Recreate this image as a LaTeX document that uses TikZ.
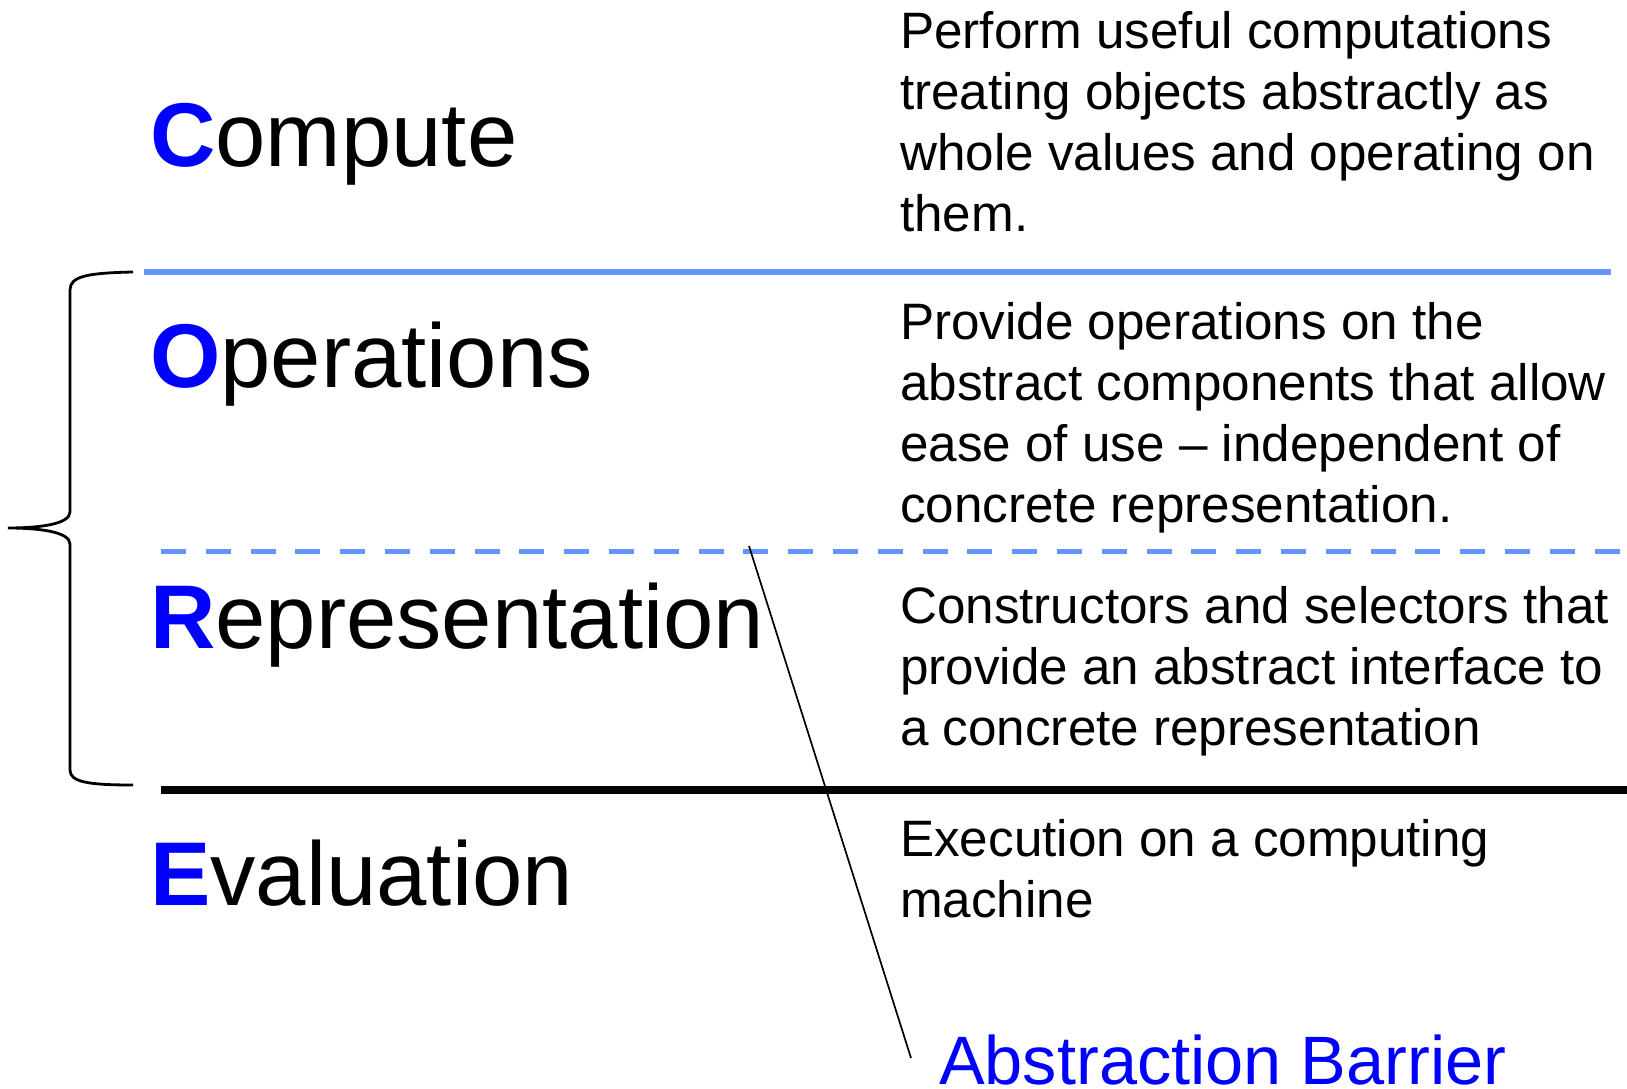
\documentclass[tikz,border=0pt]{standalone}
\usepackage{fontspec}
\setmainfont{Liberation Sans}
\definecolor{lineblue}{RGB}{100,150,250}
\definecolor{letterblue}{RGB}{0,0,255}
\begin{document}
\begin{tikzpicture}[x=1pt,y=-1pt,
  word/.style={anchor=base west,inner sep=0pt,font=\fontsize{90.5}{100}\selectfont},
  desc/.style={anchor=base west,inner sep=0pt,align=left,font=\fontsize{51.2}{61}\selectfont}]
\useasboundingbox (0,0) rectangle (1627,1089);
% words
\node[word] (compute) at (150,166) {\textcolor{letterblue}{\bfseries C}ompute};
\node[word] (operations) at (150,387) {\textcolor{letterblue}{\bfseries O}perations};
\node[word] (representation) at (150,648) {\textcolor{letterblue}{\bfseries R}epresentation};
\node[word] (evaluation) at (150,905) {\textcolor{letterblue}{\bfseries E}valuation};
% descriptions (anchored at the baseline of their last line)
\node[desc] (dcompute) at (900,231.5) {Perform useful computations\\treating objects abstractly as\\whole values and operating on\\them.};
\node[desc] (doperations) at (900,522) {Provide operations on the\\abstract components that allow\\ease of use -- independent of\\concrete representation.};
\node[desc] (drepresentation) at (900,745) {Constructors and selectors that\\provide an abstract interface to\\a concrete representation};
\node[desc] (devaluation) at (900,917) {Execution on a computing\\machine};
% lines
\coordinate (l1a) at (144,272); \coordinate (l1b) at (1611,272);
\coordinate (l2a) at (161,551); \coordinate (l2b) at (1622,551);
\coordinate (l3a) at (161,790); \coordinate (l3b) at (1627,790);
\draw[lineblue,line width=6pt] (l1a) -- (l1b);
\draw[lineblue,line width=5pt,dash pattern=on 25pt off 19.8pt] (l2a) -- (l2b);
\draw[black,line width=8pt] (l3a) -- (l3b);
% brace
\draw[line width=2.8pt] (133,272) .. controls (88,273) and (70,276) .. (70,290) -- (70,512)
  .. controls (70,524) and (40,528) .. (8,528)
  .. controls (40,528) and (70,532) .. (70,544) -- (70,770)
  .. controls (70,782) and (88,785) .. (133,785);
% barrier
\node[anchor=base west,inner sep=0pt,text=letterblue,font=\fontsize{68.5}{75}\selectfont] (barrier) at (939,1084) {Abstraction Barrier};
\coordinate (bt) at (749,546);
\coordinate (bb) at (911,1058);
\draw[line width=1.7pt] (bt) -- (bb);
\end{tikzpicture}
\end{document}
